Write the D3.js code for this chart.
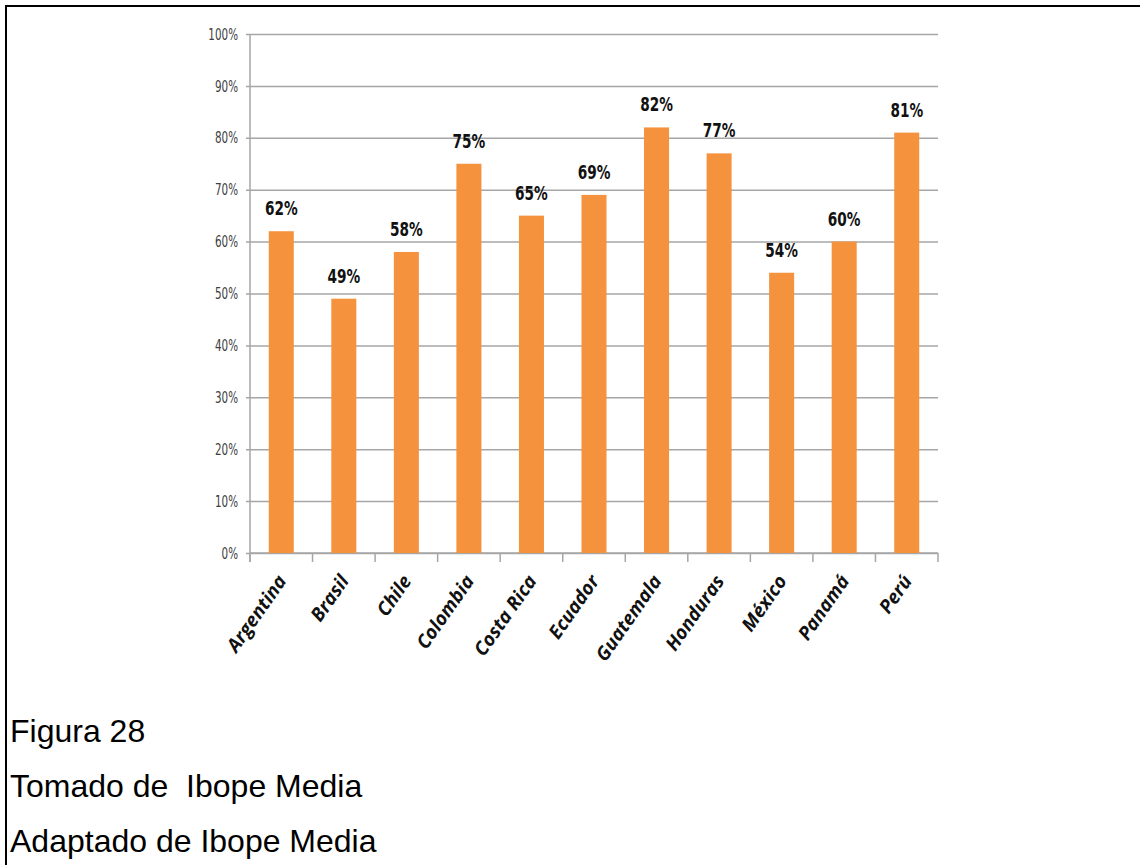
<!DOCTYPE html>
<html>
<head>
<meta charset="utf-8">
<script src="https://cdn.jsdelivr.net/npm/d3@7"></script>
<style>
  body { margin: 0; background: #fff; }
  svg { display: block; }
</style>
</head>
<body>
<svg id="chart" width="1140" height="865"></svg>
<script>
// data
var countries = ["Argentina", "Brasil", "Chile", "Colombia", "Costa Rica", "Ecuador",
                 "Guatemala", "Honduras", "México", "Panamá", "Perú"];
var shares = [62, 49, 58, 75, 65, 69, 82, 77, 54, 60, 81];
var yTicks = [0, 10, 20, 30, 40, 50, 60, 70, 80, 90, 100];
var captionLines = ["Figura 28", "Tomado de  Ibope Media", "Adaptado de Ibope Media"];

var svg = d3.select("#chart");
var narrow = "'DejaVu Sans Condensed', 'Liberation Sans Narrow', sans-serif";
var squeeze = 0.8;   // the source font is a narrow one, squash horizontally
var tickSqueeze = 0.72;

// frame (left + top border of the cell)
svg.append("rect").attr("x", 5).attr("y", 5).attr("width", 1135).attr("height", 2).attr("fill", "#000");
svg.append("rect").attr("x", 5).attr("y", 5).attr("width", 2).attr("height", 860).attr("fill", "#000");

var plotLeft = 250, plotRight = 938, plotTop = 34, plotBottom = 553;

var x = d3.scaleBand()
  .domain(countries)
  .range([plotLeft, plotRight])
  .paddingInner(0.6)
  .paddingOuter(0.3);

var y = d3.scaleLinear().domain([0, 100]).range([plotBottom, plotTop]);

// gridlines + y labels
var yAxis = d3.axisLeft(y)
  .tickValues(yTicks)
  .tickSize(-(plotRight - plotLeft))
  .tickFormat(function(d) { return d + "%"; });

var gy = svg.append("g").attr("transform", "translate(" + plotLeft + ",0)").call(yAxis);
gy.select(".domain").remove();
gy.selectAll(".tick line")
  .attr("x1", -4)
  .attr("stroke", "#a6a6a6")
  .attr("stroke-width", 1.5);
gy.selectAll(".tick text")
  .attr("x", -12 / tickSqueeze)
  .attr("transform", "scale(" + tickSqueeze + ",1)")
  .attr("fill", "#404040")
  .style("font-family", narrow)
  .style("font-size", "16px");

// vertical axis line
svg.append("line")
  .attr("x1", plotLeft).attr("x2", plotLeft)
  .attr("y1", plotTop).attr("y2", plotBottom + 9)
  .attr("stroke", "#a6a6a6").attr("stroke-width", 1.5);

// x axis line and ticks at category boundaries
svg.append("line")
  .attr("x1", plotLeft).attr("x2", plotRight)
  .attr("y1", plotBottom).attr("y2", plotBottom)
  .attr("stroke", "#a6a6a6").attr("stroke-width", 1.5);

var bounds = d3.range(countries.length + 1).map(function(i) {
  return plotLeft + i * (plotRight - plotLeft) / countries.length;
});
svg.selectAll("line.xtick")
  .data(bounds)
  .enter().append("line")
  .attr("class", "xtick")
  .attr("x1", function(d) { return d; })
  .attr("x2", function(d) { return d; })
  .attr("y1", plotBottom)
  .attr("y2", plotBottom + 9)
  .attr("stroke", "#a6a6a6").attr("stroke-width", 1.5);

// bars
svg.selectAll("rect.bar")
  .data(countries)
  .enter().append("rect")
  .attr("class", "bar")
  .attr("x", function(d) { return x(d); })
  .attr("width", x.bandwidth())
  .attr("y", function(d, i) { return y(shares[i]); })
  .attr("height", function(d, i) { return plotBottom - y(shares[i]); })
  .attr("fill", "#f5923e");

// value labels
svg.selectAll("text.val")
  .data(countries)
  .enter().append("text")
  .attr("class", "val")
  .attr("transform", function(d, i) {
    var cx = x(d) + x.bandwidth() / 2;
    return "translate(" + cx + "," + (y(shares[i]) - 16) + ") scale(" + squeeze + ",1)";
  })
  .attr("text-anchor", "middle")
  .style("font-family", narrow)
  .style("font-weight", "bold")
  .style("font-size", "19px")
  .attr("fill", "#111")
  .text(function(d, i) { return shares[i] + "%"; });

// rotated category labels
svg.selectAll("text.cat")
  .data(countries)
  .enter().append("text")
  .attr("class", "cat")
  .attr("transform", function(d) {
    var cx = x(d) + x.bandwidth() / 2 + 6;
    return "translate(" + cx + "," + (plotBottom + 28) + ") rotate(-55)";
  })
  .attr("text-anchor", "end")
  .style("font-family", "'Open Sans', sans-serif")
  .style("font-weight", "bold")
  .style("font-style", "italic")
  .style("font-size", "19px")
  .attr("fill", "#111")
  .text(function(d) { return d; });

// caption
svg.selectAll("text.caption")
  .data(captionLines)
  .enter().append("text")
  .attr("class", "caption")
  .attr("x", 10)
  .attr("y", function(d, i) { return 742 + i * 55; })
  .style("font-family", "'Liberation Sans', Arial, sans-serif")
  .style("font-size", "32px")
  .attr("fill", "#000")
  .attr("xml:space", "preserve")
  .text(function(d) { return d; });
</script>
</body>
</html>
